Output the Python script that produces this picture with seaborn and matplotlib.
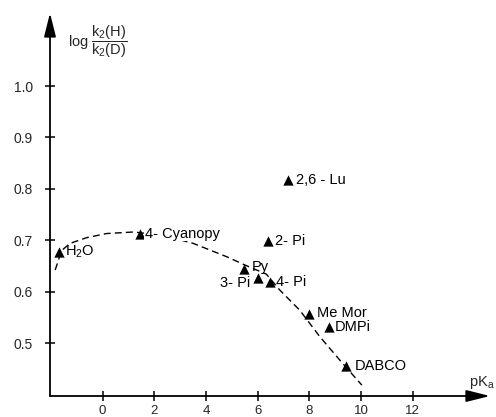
import matplotlib
matplotlib.use("Agg")
import matplotlib.pyplot as plt
import seaborn as sns
import pandas as pd

# Data
bases = ["H$_2$O", "4- Cyanopy", "Py", "3- Pi", "4- Pi", "2- Pi", "2,6 - Lu", "Me Mor", "DMPi", "DABCO"]
pka = [-1.7, 1.45, 5.48, 6.03, 6.47, 6.4, 7.18, 7.98, 8.76, 9.43]
log_kie = [0.677, 0.713, 0.645, 0.627, 0.618, 0.699, 0.818, 0.556, 0.532, 0.455]

curve_x = [-1.84, -1.59, -1.26, -0.62, 0.15, 1.18, 2.3, 3.5, 4.8, 5.5, 6.34, 6.86, 7.63, 8.4, 9.18, 10.04]
curve_y = [0.642, 0.680, 0.694, 0.705, 0.713, 0.716, 0.710, 0.694, 0.668, 0.652, 0.634, 0.603, 0.564, 0.513, 0.467, 0.418]

x_ticks = [0, 2, 4, 6, 8, 10, 12]
y_ticks = [0.5, 0.6, 0.7, 0.8, 0.9, 1.0]

points = pd.DataFrame({"base": bases, "pKa": pka, "logKIE": log_kie})
curve = pd.DataFrame({"pKa": curve_x, "logKIE": curve_y})

# label offsets in pixels (dx, dy) and horizontal alignment
label_style = {
    "H$_2$O": (6, 0, "left"),
    "4- Cyanopy": (5, 0, "left"),
    "Py": (8, 2, "left"),
    "3- Pi": (-8, -5, "right"),
    "4- Pi": (6, 0, "left"),
    "2- Pi": (7, 0, "left"),
    "2,6 - Lu": (8, 0, "left"),
    "Me Mor": (8, 1, "left"),
    "DMPi": (6, 0, "left"),
    "DABCO": (9, 0, "left"),
}

sns.set_theme(style="white")
plt.rcParams["font.family"] = ["Liberation Sans", "DejaVu Sans"]
plt.rcParams["mathtext.fontset"] = "custom"
plt.rcParams["mathtext.rm"] = "Liberation Sans"
plt.rcParams["mathtext.it"] = "Liberation Sans"

fig = plt.figure(figsize=(4.96, 4.17), dpi=100)
ax = fig.add_axes([50 / 496, 21 / 417, 440 / 496, 383 / 417])

sns.lineplot(data=curve, x="pKa", y="logKIE", sort=False, color="black",
             linestyle=(0, (5, 3)), linewidth=1.0, ax=ax)
sns.scatterplot(data=points, x="pKa", y="logKIE", marker="^", color="black",
                s=55, edgecolor="black", linewidth=0, ax=ax, zorder=3)

for name, xv, yv in zip(bases, pka, log_kie):
    dx, dy, ha = label_style[name]
    box = None
    if name == "4- Cyanopy":
        # the curve is broken behind this label in the original
        box = dict(facecolor="white", edgecolor="none", pad=0.5)
    ax.annotate(name, (xv, yv), xytext=(dx, dy), textcoords="offset pixels",
                ha=ha, va="center", fontsize=10.5, color="black", bbox=box, zorder=4)

ax.set_xlim(-2.04, 15)
ax.set_ylim(0.397, 1.142)
ax.set_xticks(x_ticks)
ax.set_xticklabels([str(t) for t in x_ticks])
ax.set_yticks(y_ticks)
ax.set_yticklabels([f"{t:.1f}" for t in y_ticks])
ax.set_xlabel("")
ax.set_ylabel("")

for side in ["top", "right", "left", "bottom"]:
    ax.spines[side].set_visible(False)

arrow = dict(arrowstyle="-|>,head_length=1.2,head_width=0.3", color="black",
             lw=1.3, shrinkA=0, shrinkB=0)
ax.annotate("", xy=(1, 0), xytext=(0, 0), xycoords="axes fraction", arrowprops=arrow)
ax.annotate("", xy=(0, 1), xytext=(0, 0), xycoords="axes fraction", arrowprops=arrow)

ax.tick_params(axis="both", which="major", direction="inout", length=7, width=1.1,
               color="black", labelsize=10, bottom=True, left=True)
ax.tick_params(axis="y", pad=9)
ax.tick_params(axis="x", pad=3, labelsize=9.5)

ax.text(0.04, 0.925, r"log $\dfrac{k_2(H)}{k_2(D)}$", transform=ax.transAxes,
        fontsize=10.5, ha="left", va="center")
ax.text(0.953, 0.026, r"pK$_a$", transform=ax.transAxes,
        fontsize=10.5, ha="left", va="baseline")

fig.savefig("out.png", dpi=100)
